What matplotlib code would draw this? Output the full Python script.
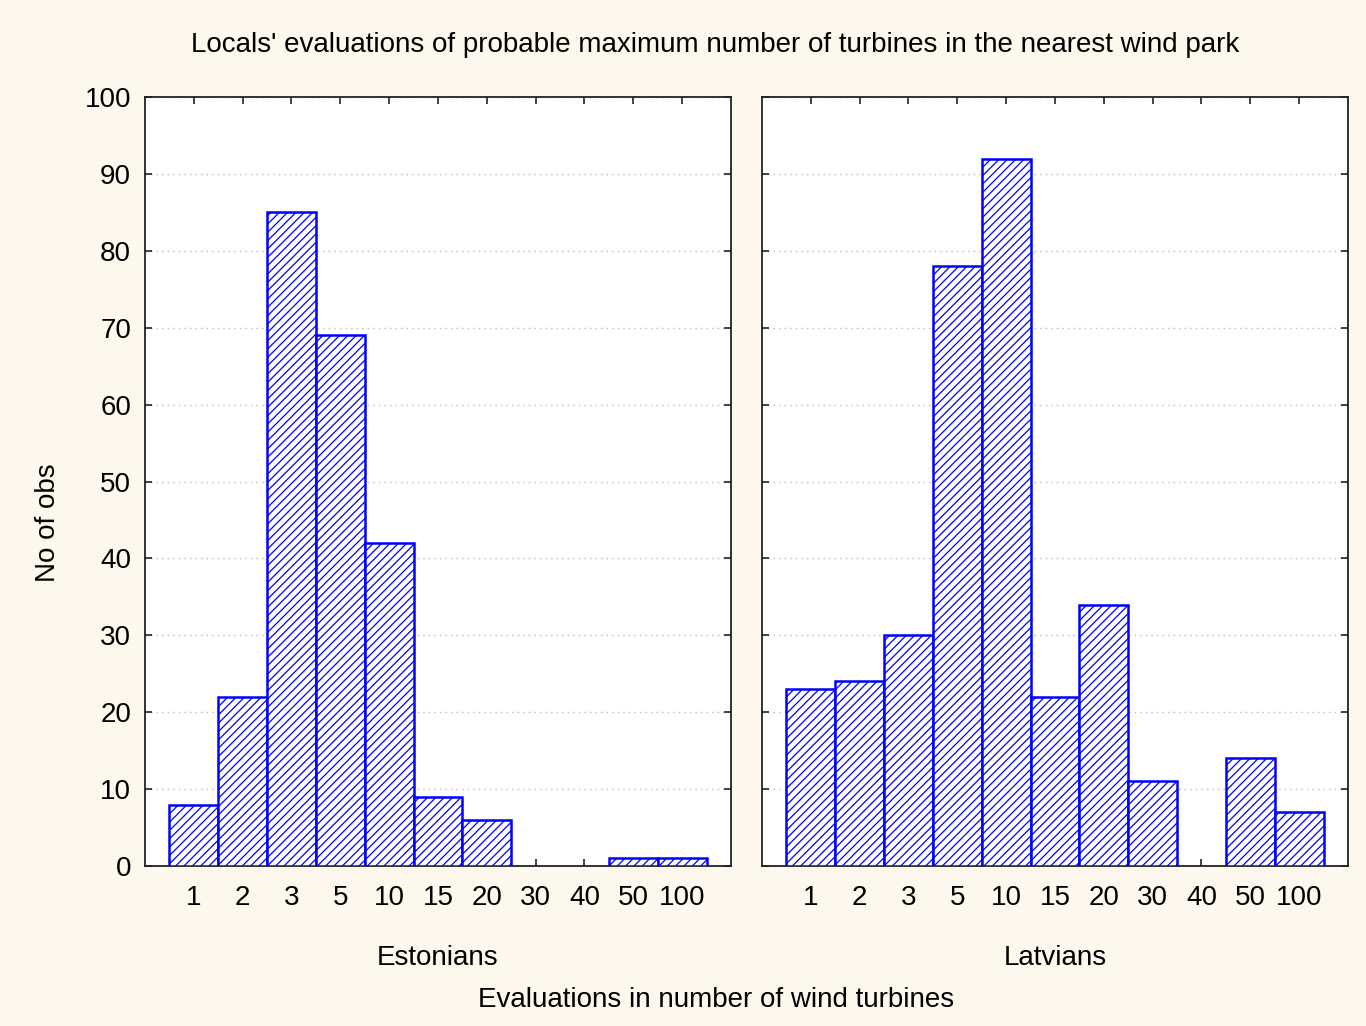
import numpy as np
import matplotlib.pyplot as plt

plt.rcParams['font.family'] = ['Liberation Sans', 'DejaVu Sans']
plt.rcParams['hatch.linewidth'] = 0.9
plt.rcParams['hatch.color'] = '#0000ff'

categories = ['1', '2', '3', '5', '10', '15', '20', '30', '40', '50', '100']
estonians = [8, 22, 85, 69, 42, 9, 6, 0, 0, 1, 1]
latvians = [23, 24, 30, 78, 92, 22, 34, 11, 0, 14, 7]
groups = ['Estonians', 'Latvians']
yticks = [0, 10, 20, 30, 40, 50, 60, 70, 80, 90, 100]

bg = '#fcf8ee'
fs = 20
fig = plt.figure(figsize=(13.66, 10.26), dpi=100, facecolor=bg)

x = np.arange(1, len(categories) + 1)
panels = [(0.1061, estonians), (0.5578, latvians)]

for i, (left, vals) in enumerate(panels):
    ax = fig.add_axes([left, 0.1559, 0.4290, 0.7495])
    vals = np.array(vals)
    keep = vals > 0
    ax.bar(x[keep], vals[keep], width=1.0, facecolor='white', edgecolor='#0000ff',
           hatch='////', linewidth=1.8, zorder=3)
    ax.set_xlim(0, len(categories) + 1)
    ax.set_ylim(0, 100)
    ax.set_xticks(x)
    ax.set_xticklabels(categories, fontsize=fs)
    ax.set_yticks(yticks)
    if i == 0:
        ax.set_yticklabels([str(v) for v in yticks], fontsize=fs)
    else:
        ax.set_yticklabels([])
    ax.tick_params(direction='in', length=5, width=1.2, top=True, right=True,
                   color='#222222')
    ax.tick_params(axis='x', pad=14)
    ax.tick_params(axis='y', pad=10)
    ax.yaxis.grid(True, linestyle=(0, (1, 3)), color='#bbbbbb', linewidth=1.0, zorder=0)
    for s in ax.spines.values():
        s.set_color('#222222')
        s.set_linewidth(1.3)
    ax.set_axisbelow(True)
    fig.text(left + 0.4290 / 2, 0.0665, groups[i], ha='center', va='center', fontsize=fs)

fig.text(0.5235, 0.956, "Locals' evaluations of probable maximum number of turbines in the nearest wind park",
         ha='center', va='center', fontsize=fs)
fig.text(0.524, 0.0255, 'Evaluations in number of wind turbines', ha='center', va='center', fontsize=fs)
fig.text(0.035, 0.491, 'No of obs', ha='center', va='center', rotation=90, fontsize=fs)

fig.savefig('out.png', dpi=100, facecolor=bg)
